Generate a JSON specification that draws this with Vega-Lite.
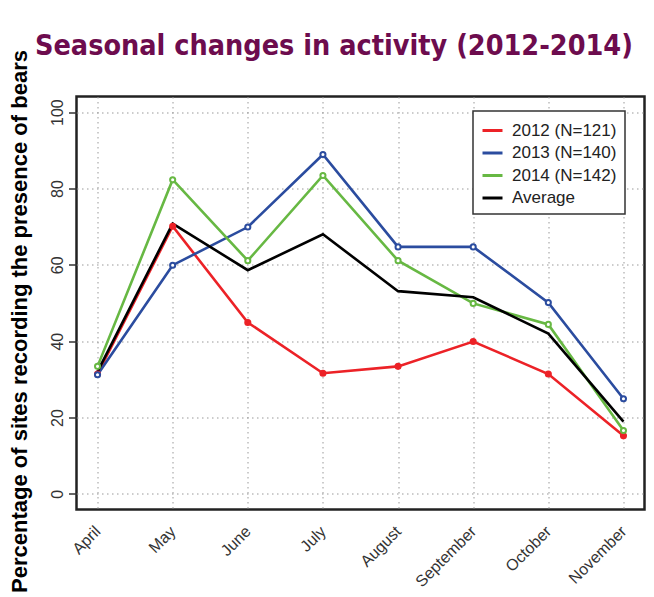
{
  "$schema": "https://vega.github.io/schema/vega-lite/v6.json",
  "autosize": {"type": "none"},
  "padding": {"left": 76.5, "top": 96.5, "right": 9.5, "bottom": 87.5},
  "width": 568,
  "height": 413,
  "background": "white",
  "title": {
    "text": "Seasonal changes in activity (2012-2014)",
    "anchor": "start",
    "frame": "group",
    "dx": -41.5,
    "offset": 0,
    "dy": 34,
    "baseline": "alphabetic",
    "font": "'Liberation Sans Narrow', 'DejaVu Sans Condensed', Roboto, sans-serif",
    "fontSize": 28.5,
    "fontWeight": "bold",
    "color": "#6D0C4E"
  },
  "config": {
    "font": "Liberation Sans",
    "view": {"stroke": "#222222", "strokeWidth": 2.5}
  },
  "data": {
    "values": [
      {"month": "April", "series": "2012 (N=121)", "value": 31.4},
      {"month": "May", "series": "2012 (N=121)", "value": 70.1},
      {"month": "June", "series": "2012 (N=121)", "value": 44.9},
      {"month": "July", "series": "2012 (N=121)", "value": 31.6},
      {"month": "August", "series": "2012 (N=121)", "value": 33.4},
      {"month": "September", "series": "2012 (N=121)", "value": 39.9},
      {"month": "October", "series": "2012 (N=121)", "value": 31.4},
      {"month": "November", "series": "2012 (N=121)", "value": 15.2},
      {"month": "April", "series": "2013 (N=140)", "value": 31.2},
      {"month": "May", "series": "2013 (N=140)", "value": 59.9},
      {"month": "June", "series": "2013 (N=140)", "value": 69.9},
      {"month": "July", "series": "2013 (N=140)", "value": 88.9},
      {"month": "August", "series": "2013 (N=140)", "value": 64.7},
      {"month": "September", "series": "2013 (N=140)", "value": 64.7},
      {"month": "October", "series": "2013 (N=140)", "value": 50.1},
      {"month": "November", "series": "2013 (N=140)", "value": 24.9},
      {"month": "April", "series": "2014 (N=142)", "value": 33.4},
      {"month": "May", "series": "2014 (N=142)", "value": 82.3},
      {"month": "June", "series": "2014 (N=142)", "value": 61.1},
      {"month": "July", "series": "2014 (N=142)", "value": 83.4},
      {"month": "August", "series": "2014 (N=142)", "value": 61.1},
      {"month": "September", "series": "2014 (N=142)", "value": 49.9},
      {"month": "October", "series": "2014 (N=142)", "value": 44.4},
      {"month": "November", "series": "2014 (N=142)", "value": 16.6},
      {"month": "April", "series": "Average", "value": 32.0},
      {"month": "May", "series": "Average", "value": 70.8},
      {"month": "June", "series": "Average", "value": 58.6},
      {"month": "July", "series": "Average", "value": 68.0},
      {"month": "August", "series": "Average", "value": 53.1},
      {"month": "September", "series": "Average", "value": 51.5},
      {"month": "October", "series": "Average", "value": 42.0},
      {"month": "November", "series": "Average", "value": 18.9}
    ]
  },
  "encoding": {
    "x": {
      "field": "month",
      "type": "ordinal",
      "sort": ["April", "May", "June", "July", "August", "September", "October", "November"],
      "scale": {"type": "point", "padding": 0.28},
      "axis": {
        "title": null,
        "domain": false,
        "ticks": false,
        "labelAngle": -45,
        "labelAlign": "right",
        "labelBaseline": "middle",
        "labelPadding": 19,
        "labelFontSize": 16,
        "labelColor": "#333333",
        "grid": true,
        "gridColor": "#999999",
        "gridDash": [1.5, 3.5],
        "gridWidth": 1
      }
    },
    "y": {
      "field": "value",
      "type": "quantitative",
      "scale": {"domain": [-4.1, 104.1], "nice": false, "zero": false},
      "axis": {
        "title": "Percentage of sites recording the presence of bears",
        "titleFontSize": 22,
        "titleFontWeight": "bold",
        "titleColor": "#000000",
        "titleAngle": -90,
        "titleAlign": "center",
        "titleBaseline": "alphabetic",
        "titleX": -49.8,
        "titleY": 224.5,
        "values": [0, 20, 40, 60, 80, 100],
        "domain": false,
        "tickSize": 8,
        "tickColor": "#333333",
        "tickWidth": 1.5,
        "labelAngle": -90,
        "labelAlign": "center",
        "labelBaseline": "alphabetic",
        "labelPadding": 6,
        "labelFontSize": 16,
        "labelColor": "#333333",
        "grid": true,
        "gridColor": "#999999",
        "gridDash": [1.5, 3.5],
        "gridWidth": 1
      }
    }
  },
  "layer": [
    {
      "mark": {"type": "line", "strokeWidth": 2.6},
      "encoding": {
        "color": {
          "field": "series",
          "type": "nominal",
          "scale": {
            "domain": ["2012 (N=121)", "2013 (N=140)", "2014 (N=142)", "Average"],
            "range": ["#EC2227", "#2B4C9F", "#67B843", "#000000"]
          },
          "legend": {
            "title": null,
            "orient": "none",
            "legendX": 396.5,
            "legendY": 14.5,
            "fillColor": "white",
            "strokeColor": "#333333",
            "padding": 8,
            "symbolType": "stroke",
            "symbolSize": 400,
            "symbolStrokeWidth": 3,
            "labelFontSize": 17,
            "labelColor": "#222222",
            "labelOffset": 8,
            "rowPadding": 2.5,
            "labelLimit": 300,
            "encode": {"legend": {"update": {"strokeWidth": {"value": 1.5}}}}
          }
        },
        "detail": {"field": "series"}
      }
    },
    {
      "transform": [{"filter": "datum.series !== 'Average'"}],
      "mark": {"type": "point", "shape": "circle", "size": 26, "strokeWidth": 2, "opacity": 1},
      "encoding": {
        "stroke": {
          "field": "series",
          "type": "nominal",
          "scale": {
            "domain": ["2012 (N=121)", "2013 (N=140)", "2014 (N=142)", "Average"],
            "range": ["#EC2227", "#2B4C9F", "#67B843", "#000000"]
          },
          "legend": null
        },
        "fill": {
          "field": "series",
          "type": "nominal",
          "scale": {
            "domain": ["2012 (N=121)", "2013 (N=140)", "2014 (N=142)"],
            "range": ["#EC2227", "#ffffff", "#ffffff"]
          },
          "legend": null
        }
      }
    }
  ]
}
